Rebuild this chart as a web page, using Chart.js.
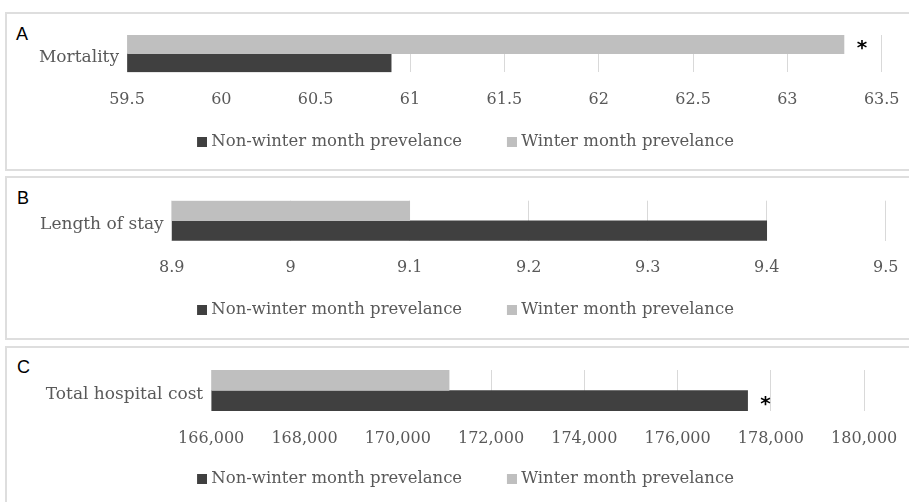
<!DOCTYPE html>
<html>
<head>
<meta charset="utf-8">
<script src="https://cdn.jsdelivr.net/npm/chart.js@4"></script>
<style>
  html, body { margin: 0; padding: 0; background: #fff; width: 909px; height: 502px; overflow: hidden; position: relative; }
  .panel { position: absolute; left: 5px; width: 940px; border: 2px solid #dedede; box-sizing: border-box; }
  .tag { position: absolute; font-family: "Liberation Sans", Arial, sans-serif; font-size: 18px; line-height: 18px; color: #000; }
  canvas { position: absolute; left: -10px; }
</style>
</head>
<body>
<div class="panel" style="top:12px;height:159px"></div>
<div class="panel" style="top:176px;height:164px"></div>
<div class="panel" style="top:346px;height:200px"></div>
<div class="tag" style="left:16px;top:25px">A</div>
<div class="tag" style="left:17px;top:189px">B</div>
<div class="tag" style="left:17px;top:358px">C</div>
<canvas id="chartA" width="917" height="155" style="top:14px"></canvas>
<canvas id="chartB" width="917" height="160" style="top:178px"></canvas>
<canvas id="chartC" width="917" height="154" style="top:348px"></canvas>
<script>
// Series names (legend lists non-winter first)
const seriesNames = ['Winter month prevelance', 'Non-winter month prevelance'];

// A: mortality
const mortalityCategory = ['Mortality'];
const mortalityWinter = [63.3];
const mortalityNonWinter = [60.9];
const mortalityTicks = ['59.5', '60', '60.5', '61', '61.5', '62', '62.5', '63', '63.5'];
const mortalityStars = [true, false];

// B: length of stay
const stayCategory = ['Length of stay'];
const stayWinter = [9.1];
const stayNonWinter = [9.4];
const stayTicks = ['8.9', '9', '9.1', '9.2', '9.3', '9.4', '9.5'];
const stayStars = [false, false];

// C: total hospital cost
const costCategory = ['Total hospital cost'];
const costWinter = [171100];
const costNonWinter = [177500];
const costTicks = ['166,000', '168,000', '170,000', '172,000', '174,000', '176,000', '178,000', '180,000'];
const costStars = [false, true];

const COLORS = { winter: '#bfbfbf', nonWinter: '#404040', text: '#595959', grid: '#d9d9d9' };
const LEGEND = { fontSize: 16.5, boxSlot: 40, padding: 10.75 };

Chart.defaults.font.family = '"DejaVu Serif", serif';
Chart.defaults.color = COLORS.text;

// Legend marker: a 10px square sitting at the right end of a transparent strip,
// so the square ends just before the label text.
function legendMarker(color) {
  const c = document.createElement('canvas');
  c.width = 48;
  c.height = 10;
  const ctx = c.getContext('2d');
  ctx.fillStyle = color;
  ctx.fillRect(c.width - 10, 0, 10, 10);
  return c;
}
const markers = [legendMarker(COLORS.winter), legendMarker(COLORS.nonWinter)];

function makePanel(id, categories, winter, nonWinter, tickLabels, stars, g) {
  const tickValues = tickLabels.map(s => Number(s.replace(/,/g, '')));
  const xMin = tickValues[0];
  const xMax = tickValues[tickValues.length - 1];

  const starMarks = {
    id: 'starMarks',
    afterDatasetsDraw(chart) {
      const ctx = chart.ctx;
      stars.forEach((on, i) => {
        if (!on) return;
        const bar = chart.getDatasetMeta(i).data[0];
        ctx.save();
        ctx.fillStyle = '#000';
        ctx.font = 'bold 20px "DejaVu Sans"';
        ctx.textAlign = 'center';
        ctx.textBaseline = 'middle';
        ctx.fillText('*', bar.x + 18, bar.y + 4);
        ctx.restore();
      });
    }
  };

  return new Chart(document.getElementById(id), {
    type: 'bar',
    data: {
      labels: categories,
      datasets: [
        { label: seriesNames[0], data: winter, backgroundColor: COLORS.winter, base: xMin },
        { label: seriesNames[1], data: nonWinter, backgroundColor: COLORS.nonWinter, base: xMin }
      ]
    },
    options: {
      indexAxis: 'y',
      responsive: false,
      animation: false,
      events: [],
      categoryPercentage: 1,
      barPercentage: 1,
      layout: { padding: { left: 0, right: 0, top: g.padT, bottom: g.padB } },
      scales: {
        x: {
          type: 'linear',
          min: xMin,
          max: xMax,
          afterBuildTicks: s => { s.ticks = tickValues.map(v => ({ value: v })); },
          afterFit: s => { s.paddingLeft = 0; s.paddingRight = g.xPadR; s.height = g.xHeight; },
          grid: { color: COLORS.grid, lineWidth: 1, drawTicks: false },
          border: { display: false },
          ticks: {
            callback: (v, i) => tickLabels[i],
            color: COLORS.text,
            font: { size: 16 },
            padding: g.tickPad,
            maxRotation: 0,
            autoSkip: false
          }
        },
        y: {
          type: 'category',
          afterFit: s => { s.width = g.yWidth; s.paddingTop = 0; s.paddingBottom = 0; },
          grid: { display: false, drawTicks: false },
          border: { display: false },
          ticks: { color: COLORS.text, font: { size: 17 }, padding: 8, labelOffset: 4 }
        }
      },
      plugins: {
        tooltip: { enabled: false },
        legend: {
          position: 'bottom',
          reverse: true,
          maxHeight: 100,
          labels: {
            usePointStyle: true,
            pointStyleWidth: LEGEND.boxSlot,
            boxHeight: 10,
            padding: LEGEND.padding,
            color: COLORS.text,
            font: { size: LEGEND.fontSize },
            generateLabels(chart) {
              const items = Chart.defaults.plugins.legend.labels.generateLabels(chart);
              items.forEach(it => { it.pointStyle = markers[it.datasetIndex]; });
              return items;
            }
          }
        }
      }
    },
    plugins: [starMarks]
  });
}

makePanel('chartA', mortalityCategory, mortalityWinter, mortalityNonWinter, mortalityTicks, mortalityStars,
  { padT: 21, padB: 8.75, yWidth: 137, xPadR: 25.3, xHeight: 50.75, tickPad: 18.4 });
makePanel('chartB', stayCategory, stayWinter, stayNonWinter, stayTicks, stayStars,
  { padT: 22.7, padB: 9.75, yWidth: 181.7, xPadR: 21.3, xHeight: 50.25, tickPad: 17.9 });
makePanel('chartC', costCategory, costWinter, costNonWinter, costTicks, costStars,
  { padT: 22, padB: 4.75, yWidth: 221.2, xPadR: 42.8, xHeight: 49.05, tickPad: 18.7 });
</script>
</body>
</html>
